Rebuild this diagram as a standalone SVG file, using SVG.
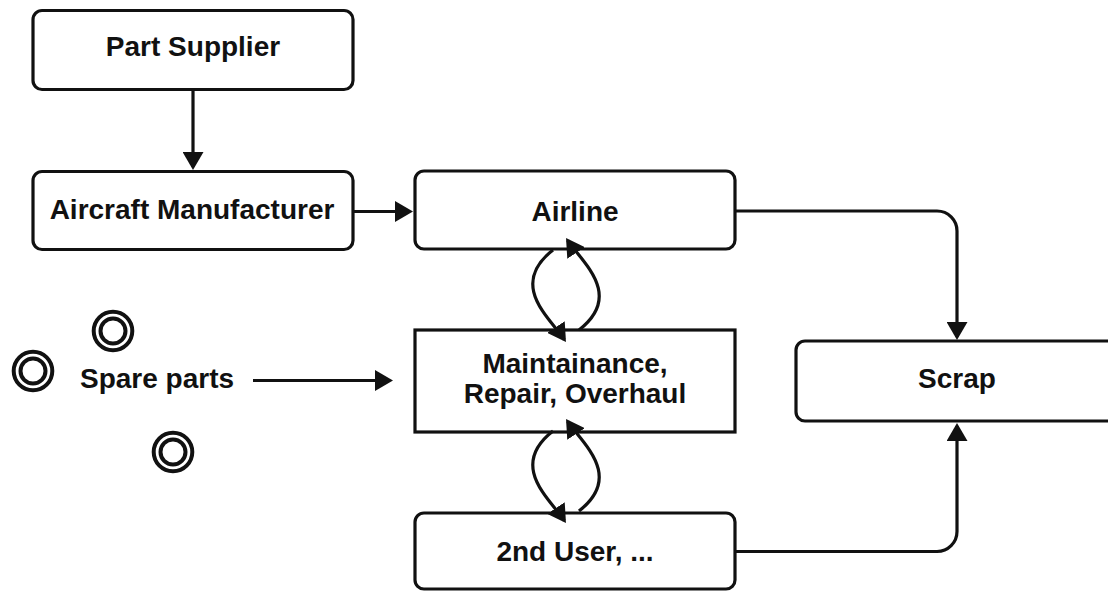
<svg xmlns="http://www.w3.org/2000/svg" width="1108" height="592" viewBox="0 0 1108 592">
<defs>
<style>
.box{fill:#fff;stroke:#111;stroke-width:3.2}
.lbl{font-family:"Liberation Sans",Arial,sans-serif;font-weight:bold;font-size:28px;fill:#111;text-anchor:middle}
.con{fill:none;stroke:#111;stroke-width:3.2}
.ring{fill:none;stroke:#111;stroke-width:4}
</style>
<marker id="ah" markerUnits="userSpaceOnUse" viewBox="0 0 18 21" markerWidth="18" markerHeight="21" refX="15" refY="10.5" orient="auto">
<path d="M0,0 L18,10.5 L0,21 z" fill="#111"/>
</marker>
</defs>
<rect width="1108" height="592" fill="#fff"/>
<g id="part-supplier">
<rect class="box" x="33" y="10.5" width="320" height="79" rx="9"/>
<text class="lbl" x="193" y="56">Part Supplier</text>
</g>
<g id="aircraft-manufacturer">
<rect class="box" x="33" y="171.5" width="320" height="78" rx="9"/>
<text class="lbl" x="192" y="219">Aircraft Manufacturer</text>
</g>
<g id="airline">
<rect class="box" x="415" y="171" width="320" height="78" rx="9"/>
<text class="lbl" x="575" y="221">Airline</text>
</g>
<g id="mro">
<rect class="box" x="415" y="330" width="320" height="102"/>
<text class="lbl" x="575" y="373">Maintainance,</text>
<text class="lbl" x="575" y="403">Repair, Overhaul</text>
</g>
<g id="second-user">
<rect class="box" x="415" y="513" width="320" height="76" rx="9"/>
<text class="lbl" x="575" y="561">2nd User, ...</text>
</g>
<g id="scrap">
<rect class="box" x="796" y="341" width="330" height="80" rx="9"/>
<text class="lbl" x="957" y="388">Scrap</text>
</g>
<g id="spare-parts">
<g class="ring">
<circle cx="113" cy="331" r="19.3"/>
<circle cx="113" cy="331" r="12.5"/>
<circle cx="33" cy="371" r="19.3"/>
<circle cx="33" cy="371" r="12.5"/>
<circle cx="173" cy="452" r="19.3"/>
<circle cx="173" cy="452" r="12.5"/>
</g>
<text class="lbl" x="80" y="388" style="text-anchor:start">Spare parts</text>
</g>
<g id="connectors">
<path class="con" d="M193 89 V167" marker-end="url(#ah)"/>
<path class="con" d="M353 211.5 H410" marker-end="url(#ah)"/>
<path class="con" d="M253 380.5 H390" marker-end="url(#ah)"/>
<path class="con" d="M735 211 H937 A20 20 0 0 1 957 231 V337" marker-end="url(#ah)"/>
<path class="con" d="M735 551.5 H937 A20 20 0 0 0 957 531.5 V426" marker-end="url(#ah)"/>
<path class="con" d="M553 250 C508 285 550 318 564.3 339.5" marker-end="url(#ah)"/>
<path class="con" d="M579 330 C624 295 582 262 567.7 240.5" marker-end="url(#ah)"/>
<path class="con" d="M553 431 C508 466 550 499 564.3 520.5" marker-end="url(#ah)"/>
<path class="con" d="M579 511 C624 476 582 443 567.7 421.5" marker-end="url(#ah)"/>
</g>
</svg>
